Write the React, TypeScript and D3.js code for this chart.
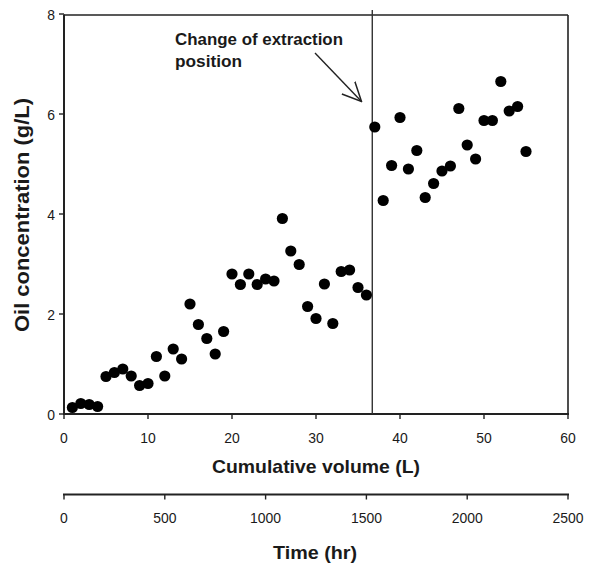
import React from "react";
import * as d3 from "d3";

const volumes = [
  1, 2, 3, 4, 5, 6, 7, 8, 9, 10, 11, 12, 13, 14, 15, 16, 17, 18, 19, 20,
  21, 22, 23, 24, 25, 26, 27, 28, 29, 30, 31, 32, 33, 34, 35, 36, 37, 38, 39, 40,
  41, 42, 43, 44, 45, 46, 47, 48, 49, 50, 51, 52, 53, 54, 55,
];
const concentrations = [
  0.13, 0.21, 0.19, 0.15, 0.75, 0.83, 0.9, 0.76, 0.57, 0.61,
  1.15, 0.76, 1.3, 1.1, 2.2, 1.79, 1.51, 1.2, 1.65, 2.8,
  2.59, 2.8, 2.59, 2.7, 2.66, 3.91, 3.26, 2.99, 2.15, 1.91,
  2.6, 1.81, 2.85, 2.88, 2.53, 2.38, 5.74, 4.27, 4.97, 5.93,
  4.9, 5.27, 4.33, 4.61, 4.86, 4.96, 6.11, 5.38, 5.1, 5.87,
  5.87, 6.65, 6.06, 6.15, 5.25,
];
const volumeTicks = [0, 10, 20, 30, 40, 50, 60];
const concTicks = [0, 2, 4, 6, 8];
const timeTicks = [0, 500, 1000, 1500, 2000, 2500];
const changeVolume = 36.7;
const annotationLines = ["Change of extraction", "position"];

const W = 592;
const H = 566;
const left = 64;
const right = 568;
const top = 14;
const bottom = 414;
const timeAxisY = 494.5;
const tickFont = 15.5;
const condense = 0.9;

export default function App() {
  const x = d3.scaleLinear().domain([0, 60]).range([left, right]);
  const y = d3.scaleLinear().domain([0, 8]).range([bottom, top]);
  const t = d3.scaleLinear().domain([0, 2500]).range([left, right]);
  const font = "'Liberation Sans', Arial, Helvetica, sans-serif";
  const axisColor = "#222";
  const textColor = "#1a1a1a";
  const numLen = (v: number) => String(v).length * 0.556 * tickFont * condense;

  return (
    <svg
      width={W}
      height={H}
      style={{ position: "absolute", left: 0, top: 0, background: "#fff" }}
      fontFamily={font}
    >
      <defs>
        <marker
          id="arrowV"
          viewBox="0 0 20 20"
          refX="19"
          refY="10"
          markerWidth="20"
          markerHeight="20"
          markerUnits="userSpaceOnUse"
          orient="auto"
        >
          <path d="M0,1 L19,10 L0,19" fill="none" stroke="#222" strokeWidth={1.5} />
        </marker>
      </defs>

      {/* frame: top and right */}
      <line x1={left} x2={right} y1={top + 1} y2={top + 1} stroke={axisColor} strokeWidth={1.6} />
      <line x1={right} x2={right} y1={top + 1} y2={bottom} stroke={axisColor} strokeWidth={1.6} />

      {/* left axis */}
      <line x1={left} x2={left} y1={top + 0.5} y2={bottom} stroke={axisColor} strokeWidth={2} />
      {concTicks.map((v) => (
        <g key={"yt" + v}>
          <line x1={left - 5} x2={left} y1={y(v)} y2={y(v)} stroke={axisColor} strokeWidth={1.4} />
          <text
            x={left - 9}
            y={y(v) + 5.5}
            textAnchor="end"
            fontSize={tickFont}
            fill={textColor}
            textLength={numLen(v)}
            lengthAdjust="spacingAndGlyphs"
          >
            {v}
          </text>
        </g>
      ))}

      {/* bottom axis */}
      <line x1={left - 1} x2={right + 1} y1={bottom} y2={bottom} stroke={axisColor} strokeWidth={2} />
      {volumeTicks.map((v) => (
        <g key={"xt" + v}>
          <line x1={x(v)} x2={x(v)} y1={bottom} y2={bottom + 5} stroke={axisColor} strokeWidth={1.4} />
          <text
            x={x(v)}
            y={bottom + 28.5}
            textAnchor="middle"
            fontSize={tickFont}
            fill={textColor}
            textLength={numLen(v)}
            lengthAdjust="spacingAndGlyphs"
          >
            {v}
          </text>
        </g>
      ))}

      {/* change-of-position line */}
      <line
        x1={x(changeVolume)}
        x2={x(changeVolume)}
        y1={10}
        y2={bottom}
        stroke="#333"
        strokeWidth={1.4}
      />

      {/* annotation */}
      {annotationLines.map((s, i) => (
        <text
          key={s}
          x={175}
          y={45 + i * 21.5}
          fontSize={16}
          fontWeight="bold"
          fill={textColor}
          textLength={i === 0 ? 168 : 67}
          lengthAdjust="spacingAndGlyphs"
        >
          {s}
        </text>
      ))}
      <line
        x1={315}
        y1={53}
        x2={361.5}
        y2={101.5}
        stroke="#222"
        strokeWidth={1.4}
        markerEnd="url(#arrowV)"
      />

      {/* points */}
      {volumes.map((v, i) => (
        <circle key={"p" + v} cx={x(v)} cy={y(concentrations[i])} r={5.6} fill="#000" />
      ))}

      {/* axis titles */}
      <text
        x={(left + right) / 2}
        y={473}
        textAnchor="middle"
        fontSize={19}
        fontWeight="bold"
        fill={textColor}
        textLength={208}
        lengthAdjust="spacingAndGlyphs"
      >
        Cumulative volume (L)
      </text>
      <text
        transform={`translate(29, ${(top + bottom) / 2 + 1}) rotate(-90)`}
        textAnchor="middle"
        fontSize={20}
        fontWeight="bold"
        fill={textColor}
        textLength={234}
        lengthAdjust="spacingAndGlyphs"
      >
        Oil concentration (g/L)
      </text>

      {/* time axis */}
      <line x1={left - 1} x2={right + 1} y1={timeAxisY} y2={timeAxisY} stroke={axisColor} strokeWidth={2} />
      {timeTicks.map((v) => (
        <g key={"tt" + v}>
          <line x1={t(v)} x2={t(v)} y1={timeAxisY} y2={timeAxisY + 5} stroke={axisColor} strokeWidth={1.4} />
          <text
            x={t(v)}
            y={timeAxisY + 28}
            textAnchor="middle"
            fontSize={tickFont}
            fill={textColor}
            textLength={numLen(v)}
            lengthAdjust="spacingAndGlyphs"
          >
            {v}
          </text>
        </g>
      ))}
      <text
        x={(left + right) / 2 - 1}
        y={559}
        textAnchor="middle"
        fontSize={19}
        fontWeight="bold"
        fill={textColor}
        textLength={84}
        lengthAdjust="spacingAndGlyphs"
      >
        Time (hr)
      </text>
    </svg>
  );
}
